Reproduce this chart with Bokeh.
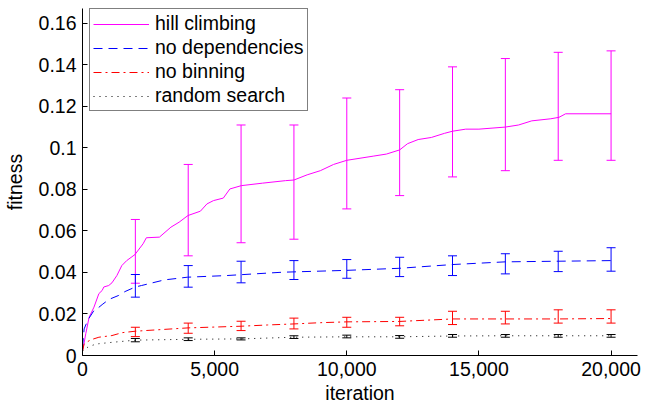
from bokeh.plotting import figure
from bokeh.models import (ColumnDataSource, Whisker, TeeHead, FixedTicker,
                          NumeralTickFormatter, Legend, LegendItem, Range1d)
from bokeh.embed import file_html
from bokeh.resources import INLINE

# ---------------- data ----------------
hill_x = [0, 60, 124, 250, 435, 620, 743, 807, 992, 1115, 1301, 1487, 1673, 1983,
          2293, 2416, 2911, 3346, 3656, 3990, 4461, 4709, 4957, 5328, 5576, 6011,
          6814, 7681, 8000, 8500, 9000, 9500, 10000, 10500, 11000, 11500, 12000,
          12300, 12700, 13200, 13700, 14000, 14500, 15000, 16000, 16500, 17000,
          17720, 18030, 18280, 20000]
hill_y = [0.0024, 0.006, 0.0105, 0.0184, 0.0233, 0.0298, 0.0313, 0.0330, 0.0337, 0.0350,
          0.0385, 0.0433, 0.0457, 0.0486, 0.0538, 0.0567, 0.0570, 0.0618, 0.0642,
          0.0674, 0.0695, 0.0730, 0.0746, 0.0758, 0.0802, 0.0818, 0.0830, 0.0842,
          0.0845, 0.0870, 0.0890, 0.0920, 0.0940, 0.0950, 0.0960, 0.0970, 0.0990,
          0.1020, 0.1040, 0.1050, 0.1070, 0.1080, 0.1090, 0.1090, 0.1100, 0.1110,
          0.1130, 0.1140, 0.1147, 0.1164, 0.1164]

nodep_x = [0, 62, 200, 435, 600, 743, 1000, 1363, 1611, 2000, 2233, 3098, 3965,
           5452, 7557, 10000, 12000, 14000, 16000, 18000, 20000]
nodep_y = [0.004, 0.0128, 0.017, 0.0217, 0.023, 0.0245, 0.027, 0.0289, 0.0308, 0.0330,
           0.0337, 0.0364, 0.0377, 0.0385, 0.0401, 0.0410, 0.0420, 0.0438, 0.0451,
           0.0454, 0.0457]

nobin_x = [0, 62, 300, 620, 1115, 1500, 2000, 3000, 4000, 5000, 6000, 7000, 8000,
           9000, 10000, 11000, 12000, 13000, 14000, 16000, 18000, 20000]
nobin_y = [0.002, 0.0056, 0.0075, 0.0088, 0.0096, 0.0110, 0.0117, 0.0125, 0.0133,
           0.0137, 0.0141, 0.0147, 0.0152, 0.0158, 0.0162, 0.0163, 0.0164, 0.0170,
           0.0176, 0.0176, 0.0176, 0.0178]

rand_x = [0, 200, 500, 1000, 2000, 4000, 6000, 8000, 10000, 12000, 14000, 16000,
          18000, 20000]
rand_y = [0.002, 0.004, 0.0055, 0.0062, 0.0074, 0.0078, 0.0080, 0.0088, 0.0090,
          0.0090, 0.0094, 0.0095, 0.0095, 0.0095]

bar_x = [2000, 4000, 6000, 8000, 10000, 12000, 14000, 16000, 18000, 20000]
hill_lo = [0.0348, 0.0480, 0.0543, 0.0560, 0.0706, 0.0770, 0.0860, 0.0890, 0.0940, 0.0940]
hill_hi = [0.0655, 0.0920, 0.1110, 0.1110, 0.1240, 0.1280, 0.1390, 0.1430, 0.1460, 0.1467]
nodep_lo = [0.0281, 0.0329, 0.0350, 0.0366, 0.0372, 0.0380, 0.0385, 0.0393, 0.0404, 0.0406]
nodep_hi = [0.0390, 0.0433, 0.0454, 0.0457, 0.0462, 0.0473, 0.0480, 0.0490, 0.0502, 0.0519]
nobin_lo = [0.0091, 0.0107, 0.0120, 0.0128, 0.0136, 0.0143, 0.0149, 0.0152, 0.0156, 0.0156]
nobin_hi = [0.0136, 0.0156, 0.0165, 0.0180, 0.0184, 0.0184, 0.0213, 0.0213, 0.0220, 0.0220]
rand_lo = [0.0066, 0.0072, 0.0075, 0.0082, 0.0085, 0.0083, 0.0088, 0.0088, 0.0088, 0.0088]
rand_hi = [0.0082, 0.0085, 0.0085, 0.0095, 0.0098, 0.0096, 0.0101, 0.0101, 0.0101, 0.0101]

series_names = ["hill climbing", "no dependencies", "no binning", "random search"]
x_ticks = [0, 5000, 10000, 15000, 20000]
y_ticks = [0, 0.02, 0.04, 0.06, 0.08, 0.1, 0.12, 0.14, 0.16]
y_tick_labels = ["0", "0.02", "0.04", "0.06", "0.08", "0.1", "0.12", "0.14", "0.16"]
x_title = "iteration"
y_title = "fitness"

FONT = "Liberation Sans"
FS = "19.5px"

p = figure(width=644, height=407, output_backend="svg", toolbar_location=None,
           x_range=Range1d(0, 21000), y_range=Range1d(0, 0.1671),
           min_border_left=72, min_border_right=7, min_border_top=8,
           min_border_bottom=52)
p.outline_line_color = None
p.grid.visible = False
p.background_fill_color = "white"

styles = [
    (hill_x, hill_y, hill_lo, hill_hi, "#ff00ff", None),
    (nodep_x, nodep_y, nodep_lo, nodep_hi, "#0000ff", "9 6"),
    (nobin_x, nobin_y, nobin_lo, nobin_hi, "#ff0000", "8 4 2 4"),
    (rand_x, rand_y, rand_lo, rand_hi, "#000000", "1 5"),
]
items = []
for name, (xs, ys, lo, hi, col, dash) in zip(series_names, styles):
    kw = dict(line_color=col, line_width=1)
    if dash:
        kw["line_dash"] = dash
    r = p.line(xs, ys, **kw)
    src = ColumnDataSource(dict(x=bar_x, lo=lo, hi=hi))
    w = Whisker(source=src, base="x", lower="lo", upper="hi",
                line_color=col, line_width=1,
                upper_head=TeeHead(size=9, line_color=col, line_width=1),
                lower_head=TeeHead(size=9, line_color=col, line_width=1))
    p.add_layout(w)
    items.append(LegendItem(label=name, renderers=[r]))

legend = Legend(items=items, location=(7, 244), orientation="vertical",
                label_text_font=FONT, label_text_font_size=FS,
                label_text_color="black", label_height=20, glyph_height=20,
                glyph_width=56, label_standoff=6, spacing=1, padding=3,
                margin=0, border_line_color="black", border_line_width=1,
                background_fill_color="white", background_fill_alpha=1)
p.add_layout(legend)

for ax in (p.xaxis[0], p.yaxis[0]):
    ax.axis_line_color = "black"
    ax.major_tick_line_color = "black"
    ax.minor_tick_line_color = None
    ax.major_tick_in = 5
    ax.major_tick_out = 0
    ax.major_label_text_font = FONT
    ax.major_label_text_font_size = FS
    ax.major_label_text_color = "black"
    ax.axis_label_text_font = FONT
    ax.axis_label_text_font_size = FS
    ax.axis_label_text_font_style = "normal"
    ax.axis_label_text_color = "black"

p.xaxis.ticker = FixedTicker(ticks=x_ticks)
p.xaxis.formatter = NumeralTickFormatter(format="0,0")
p.xaxis.axis_label = x_title
p.xaxis.major_label_standoff = 6
p.xaxis.axis_label_standoff = 3

p.yaxis.ticker = FixedTicker(ticks=y_ticks)
p.yaxis.major_label_overrides = {t: s for t, s in zip(y_ticks, y_tick_labels)}
p.yaxis.axis_label = y_title
p.yaxis.major_label_standoff = 6
p.yaxis.axis_label_standoff = 10

open("out.html", "w").write(file_html(p, INLINE))
